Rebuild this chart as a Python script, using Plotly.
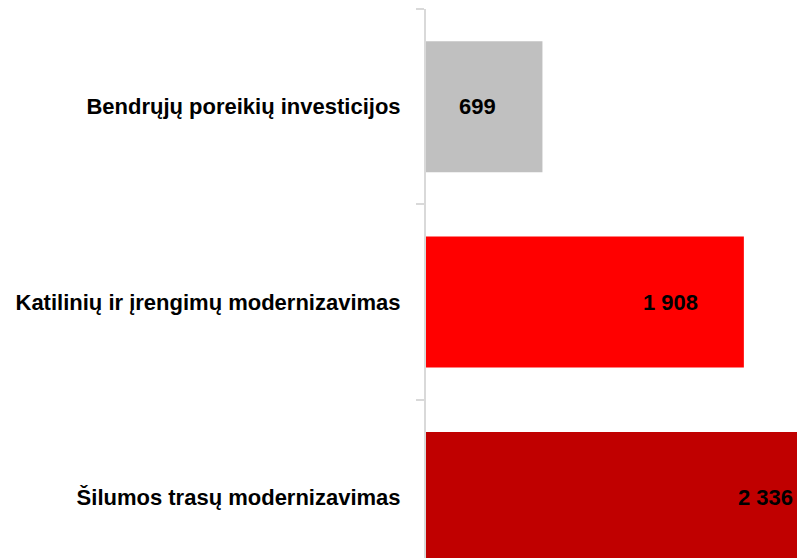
import plotly.graph_objects as go

categories = ["Šilumos trasų modernizavimas",
              "Katilinių ir įrengimų modernizavimas",
              "Bendrųjų poreikių investicijos"]
values = [2336, 1908, 699]
colors = ["#C00000", "#FF0000", "#C0C0C0"]
value_labels = ["2 336", "1 908", "699"]

XMAX = 2275
FONT = "Liberation Sans Narrow, Arial Narrow, Liberation Sans, Arial, sans-serif"

fig = go.Figure(go.Bar(
    y=categories, x=values, orientation="h",
    marker=dict(color=colors, line=dict(width=0)),
    width=0.67, hoverinfo="skip",
))

for c, v, t in zip(categories, values, value_labels):
    clipped = v > XMAX
    fig.add_annotation(
        x=min(v, XMAX), y=c, xref="x", yref="y", text=t,
        showarrow=False, xanchor="right", yanchor="middle",
        xshift=-10 if clipped else -44,
        font=dict(family=FONT, size=22, color="black", weight="bold"),
    )

fig.update_layout(
    width=797, height=550,
    margin=dict(l=418, r=0, t=1, b=0),
    paper_bgcolor="white", plot_bgcolor="white",
    showlegend=False,
    xaxis=dict(range=[0, XMAX], visible=False, showgrid=False, zeroline=False),
    yaxis=dict(
        range=[-0.31, 2.5],
        showline=True, linecolor="#D9D9D9", linewidth=2,
        ticks="outside", tickson="boundaries", ticklen=8, tickcolor="#D9D9D9", tickwidth=2,
        showgrid=False, zeroline=False,
        tickfont=dict(family=FONT, size=22, color="black", weight="bold"),
        ticklabelstandoff=19,
    ),
)

fig.write_html("out.html")
